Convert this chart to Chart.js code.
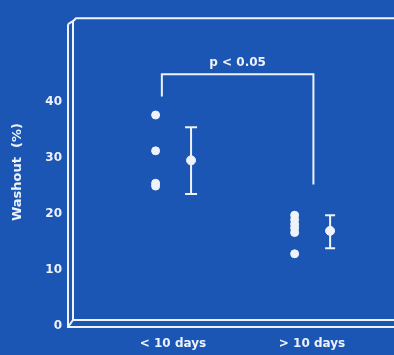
<!DOCTYPE html>
<html>
<head>
<meta charset="utf-8">
<script src="https://cdn.jsdelivr.net/npm/chart.js@4"></script>
<style>
  html, body { margin: 0; padding: 0; background: #1c56b5; }
  #wrap { width: 394px; height: 355px; }
</style>
</head>
<body>
<div id="wrap"><canvas id="washoutChart"></canvas></div>
<script>
const categories = ['< 10 days', '> 10 days'];
const categoryPos = [1, 2];
const yTicks = [0, 10, 20, 30, 40];

// individual patients
const shortValues = [37.7, 31.3, 25.5, 25.0];
const longValues = [19.8, 19.0, 18.2, 17.5, 16.7, 12.9];

// mean +/- sd
const means = [29.6, 17.0];
const lows = [23.6, 13.9];
const highs = [35.5, 19.8];

// significance bracket
const bracketX = [0.92, 2.01];
const bracketTop = 45;
const bracketEnds = [41, 25.3];
const pLabel = 'p < 0.05';

const ink = '#eef2fa';
const fontFamily = 'DejaVu Sans, Verdana, sans-serif';
const font = { family: fontFamily, size: 12, weight: 'bold' };

const pointsOff = -0.125;
const meanOff = 0.13;

const frame = {
  id: 'frame',
  beforeDatasetsDraw(chart) {
    const { ctx, chartArea: a } = chart;
    const right = chart.width + 2;
    ctx.save();
    ctx.strokeStyle = ink;
    ctx.lineWidth = 2;
    ctx.beginPath();
    // back panel
    ctx.moveTo(right, a.top);
    ctx.lineTo(a.left + 3, a.top);
    ctx.lineTo(a.left, a.top + 3);
    ctx.lineTo(a.left, a.bottom - 6);
    ctx.lineTo(right, a.bottom - 6);
    // front edges
    ctx.moveTo(a.left - 5, a.top + 6);
    ctx.lineTo(a.left - 5, a.bottom + 1);
    ctx.lineTo(right, a.bottom + 1);
    ctx.moveTo(a.left - 5, a.top + 6);
    ctx.lineTo(a.left, a.top + 3);
    ctx.moveTo(a.left - 5, a.bottom + 1);
    ctx.lineTo(a.left, a.bottom - 6);
    ctx.stroke();

    const x = chart.scales.x, y = chart.scales.y;
    ctx.fillStyle = ink;
    ctx.font = 'bold 12px ' + fontFamily;
    ctx.textAlign = 'center';
    ctx.textBaseline = 'bottom';
    ctx.fillText(pLabel, x.getPixelForValue((bracketX[0] + bracketX[1]) / 2), y.getPixelForValue(bracketTop) - 5);
    ctx.restore();
  }
};

const datasets = [
  {
    data: shortValues.map(v => ({ x: categoryPos[0] + pointsOff, y: v })),
    pointRadius: 4
  },
  {
    data: longValues.map(v => ({ x: categoryPos[1] + pointsOff, y: v })),
    pointRadius: 4
  },
  {
    data: means.map((m, i) => ({ x: categoryPos[i] + meanOff, y: m })),
    pointRadius: 4.5
  },
  {
    type: 'line',
    data: [
      { x: bracketX[0], y: bracketEnds[0] },
      { x: bracketX[0], y: bracketTop },
      { x: bracketX[1], y: bracketTop },
      { x: bracketX[1], y: bracketEnds[1] }
    ],
    borderWidth: 2,
    pointRadius: 0
  }
];

means.forEach((m, i) => {
  datasets.push({
    type: 'line',
    data: [
      { x: categoryPos[i] + meanOff, y: lows[i] },
      { x: categoryPos[i] + meanOff, y: highs[i] }
    ],
    borderWidth: 2,
    pointStyle: 'line',
    pointRadius: 6 - i,
    pointBorderWidth: 2
  });
});

datasets.forEach(d => {
  d.borderColor = ink;
  d.backgroundColor = ink;
  d.pointBackgroundColor = ink;
  d.pointBorderColor = ink;
});

new Chart(document.getElementById('washoutChart'), {
  type: 'scatter',
  data: { datasets },
  plugins: [frame],
  options: {
    responsive: true,
    maintainAspectRatio: false,
    animation: false,
    layout: { padding: { top: 10, right: 0, left: 0, bottom: 0 } },
    plugins: {
      legend: { display: false },
      tooltip: { enabled: false }
    },
    scales: {
      x: {
        type: 'linear',
        min: 0.281,
        max: 2.532,
        grid: { display: false, drawTicks: false },
        border: { display: false },
        afterBuildTicks: s => { s.ticks = categoryPos.map(v => ({ value: v })); },
        afterFit: s => { s.height = 29; },
        ticks: {
          color: ink,
          font,
          padding: 11,
          maxRotation: 0,
          callback: (v, i) => categories[i]
        }
      },
      y: {
        min: 0,
        max: 55,
        grid: { display: false, drawTicks: false },
        border: { display: false },
        afterBuildTicks: s => { s.ticks = yTicks.map(v => ({ value: v })); },
        afterFit: s => { s.width = 73; },
        ticks: { color: ink, font, padding: 11 },
        title: {
          display: true,
          text: 'Washout  (%)',
          color: ink,
          font: { family: fontFamily, size: 13, weight: 'bold' },
          padding: { top: 10, bottom: 0 }
        }
      }
    }
  }
});
</script>
</body>
</html>
